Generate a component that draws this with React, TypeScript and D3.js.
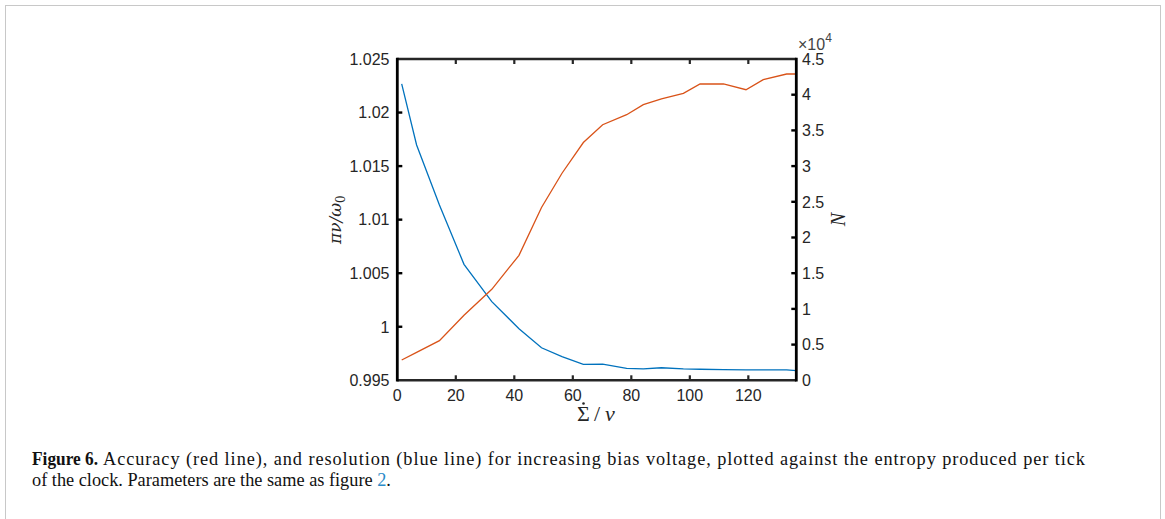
import React from "react";
import * as d3 from "d3";

// Entropy per tick (x axis)
const entropy = [1.5, 6.6, 14.4, 22.8, 32.3, 41.6, 49.3, 56.3, 63.6, 70.2, 78.4, 84.1, 90.3, 97.8, 103.5, 111.5, 119.2, 125.1, 133.1, 136.4];
// Resolution pi*nu/omega0 (blue, left axis)
const resolution = [1.02267, 1.01697, 1.01137, 1.00583, 1.00234, 0.99982, 0.99804, 0.99722, 0.99649, 0.99651, 0.99612, 0.99606, 0.99617, 0.99606, 0.99603, 0.996, 0.99598, 0.99597, 0.99597, 0.9959];
// Accuracy N (red, right axis) in units of 1e4
const accuracy = [0.284, 0.392, 0.555, 0.91, 1.274, 1.75, 2.42, 2.9, 3.33, 3.58, 3.72, 3.86, 3.94, 4.02, 4.15, 4.15, 4.07, 4.21, 4.29, 4.29];

const xTicks = [0, 20, 40, 60, 80, 100, 120];
const leftTicks = [0.995, 1.0, 1.005, 1.01, 1.015, 1.02, 1.025];
const leftTickLabels = ["0.995", "1", "1.005", "1.01", "1.015", "1.02", "1.025"];
const rightTicks = [0, 0.5, 1, 1.5, 2, 2.5, 3, 3.5, 4, 4.5];
const rightTickLabels = ["0", "0.5", "1", "1.5", "2", "2.5", "3", "3.5", "4", "4.5"];

const captionBold = "Figure 6.";
const captionLine1 = "Accuracy (red line), and resolution (blue line) for increasing bias voltage, plotted against the entropy produced per tick";
const captionLine2 = "of the clock. Parameters are the same as figure ";

const W = 1165;
const H = 519;
const L = 397.3, R = 796.3, T = 59, B = 380.3;

export default function App() {
  const x = d3.scaleLinear().domain([0, 136.4]).range([L, R]);
  const yL = d3.scaleLinear().domain([0.995, 1.025]).range([B, T]);
  const yR = d3.scaleLinear().domain([0, 4.5]).range([B, T]);

  const blueLine = d3.line<number>().x((_, i) => x(entropy[i])).y((d) => yL(d))(resolution) || "";
  const redLine = d3.line<number>().x((_, i) => x(entropy[i])).y((d) => yR(d))(accuracy) || "";

  const tickFont = "'Liberation Sans', Arial, Helvetica, sans-serif";
  const serif = "'Liberation Serif', 'Times New Roman', serif";
  const textCol = "#262626";
  const tl = 5;

  return (
    <svg width={W} height={H} style={{ position: "absolute", left: 0, top: 0, background: "#fff" }}>
      <rect x={5.5} y={5.5} width={1155} height={H + 10} fill="none" stroke="#c8c8c8" strokeWidth={1} />

      {/* data lines */}
      <path d={blueLine} fill="none" stroke="#0072BD" strokeWidth={1.3} />
      <path d={redLine} fill="none" stroke="#D95319" strokeWidth={1.3} />

      {/* box */}
      <line x1={L} x2={R} y1={T} y2={T} stroke="#262626" strokeWidth={2.4} />
      <line x1={L} x2={R} y1={B} y2={B} stroke="#262626" strokeWidth={2.4} />
      <line x1={L} x2={L} y1={T - 1.2} y2={B + 1.2} stroke="#000" strokeWidth={2.8} />
      <line x1={R} x2={R} y1={T - 1.2} y2={B + 1.2} stroke="#000" strokeWidth={2.8} />

      {/* x ticks (bottom and top) */}
      {xTicks.map((t) => (
        <g key={"x" + t}>
          {t > 0 && (
            <>
              <line x1={x(t)} x2={x(t)} y1={B} y2={B - tl} stroke="#262626" strokeWidth={2.2} />
              <line x1={x(t)} x2={x(t)} y1={T} y2={T + tl} stroke="#262626" strokeWidth={2.2} />
            </>
          )}
          <text x={x(t)} y={401} textAnchor="middle" fontFamily={tickFont} fontSize={16} fill={textCol}>
            {t}
          </text>
        </g>
      ))}

      {/* left ticks */}
      {leftTicks.map((t, i) => (
        <g key={"l" + i}>
          {i > 0 && i < leftTicks.length - 1 && (
            <line x1={L} x2={L + tl} y1={yL(t)} y2={yL(t)} stroke="#000" strokeWidth={2.4} />
          )}
          <text x={389.5} y={yL(t)} dy="0.36em" textAnchor="end" fontFamily={tickFont} fontSize={16} fill={textCol}>
            {leftTickLabels[i]}
          </text>
        </g>
      ))}

      {/* right ticks */}
      {rightTicks.map((t, i) => (
        <g key={"r" + i}>
          {i > 0 && i < rightTicks.length - 1 && (
            <line x1={R} x2={R - tl} y1={yR(t)} y2={yR(t)} stroke="#000" strokeWidth={2.4} />
          )}
          <text x={802} y={yR(t)} dy="0.36em" textAnchor="start" fontFamily={tickFont} fontSize={16} fill={textCol}>
            {rightTickLabels[i]}
          </text>
        </g>
      ))}

      {/* exponent label */}
      <text x={798} y={50} fontFamily={tickFont} fontSize={16} fill="#444">
        <tspan>×10</tspan>
        <tspan fontSize={12} dy={-8}>4</tspan>
      </text>

      {/* axis labels */}
      <text
        transform={`translate(341, ${(T + B) / 2}) rotate(-90)`}
        textAnchor="middle"
        fontFamily="'DejaVu Serif', 'Liberation Serif', serif"
        fontSize={17}
        fontStyle="italic"
        fill={textCol}
      >
        πν/ω<tspan fontSize={12} dy={4} fontStyle="normal">0</tspan>
      </text>
      <text
        transform={`translate(845, ${(T + B) / 2}) rotate(-90)`}
        textAnchor="middle"
        fontFamily={serif}
        fontSize={20}
        fontStyle="italic"
        fill={textCol}
      >
        N
      </text>
      <g fontFamily={serif} fill={textCol}>
        <text x={583.5} y={421} textAnchor="middle" fontSize={22}>Σ</text>
        <circle cx={583.5} cy={403.5} r={1.3} />
        <text x={597} y={421} textAnchor="middle" fontSize={22}>/</text>
        <text x={610} y={421} textAnchor="middle" fontSize={22} fontStyle="italic">ν</text>
      </g>

      {/* caption */}
      <g fontFamily={serif} fontSize={18.3} fill="#111">
        <text x={32} y={465} fontWeight="bold" textLength={66} lengthAdjust="spacingAndGlyphs">{captionBold}</text>
        <text x={103} y={465} textLength={982} lengthAdjust="spacing">{captionLine1}</text>
        <text x={32} y={486}>
          <tspan>{captionLine2}</tspan>
          <tspan fill="#2a8bc9">2</tspan>
          <tspan>.</tspan>
        </text>
      </g>
    </svg>
  );
}
